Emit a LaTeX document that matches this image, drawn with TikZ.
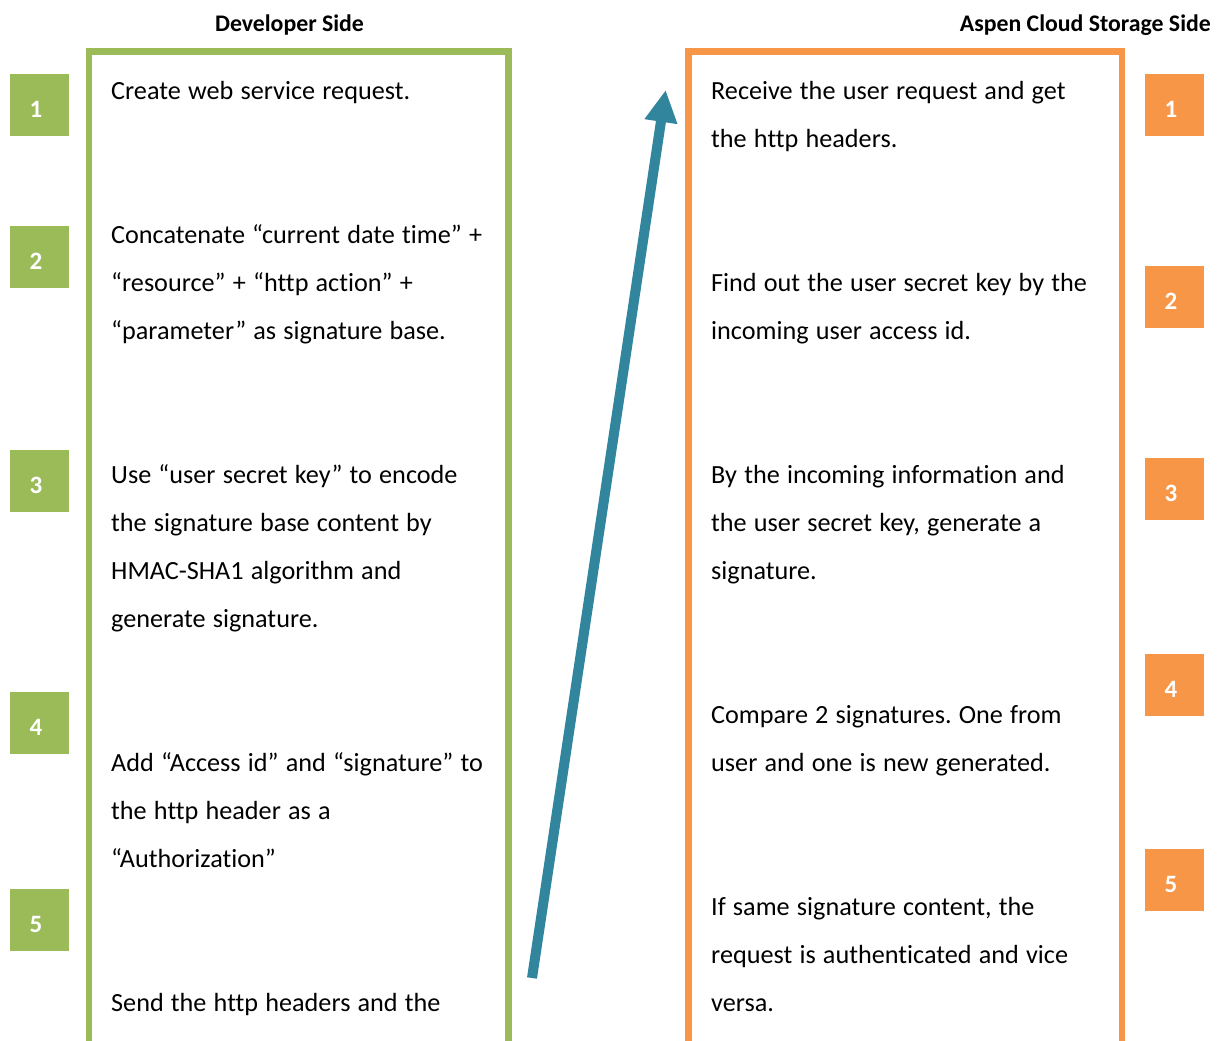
\documentclass[tikz,border=0pt]{standalone}
\usepackage{fontspec}
\setmainfont{Carlito}[Ligatures={NoCommon}]
\usetikzlibrary{arrows.meta}
\definecolor{devgreen}{HTML}{9BBB59}
\definecolor{aspenorange}{HTML}{F79646}
\definecolor{arrowteal}{HTML}{31859C}
\frenchspacing
\newcommand{\mybodyfont}{\fontsize{26.2}{48}\selectfont}
\newcommand{\mytightspace}{\spaceskip=7.2pt plus 2pt minus 1pt\relax}
\begin{document}
\begin{tikzpicture}[x=1pt,y=-1pt,
  frame/.style={line width=6.4pt},
  numbox/.style={minimum width=59pt, minimum height=62pt, inner sep=0pt, anchor=north west, draw=none},
  numtxt/.style={text=white, font=\fontsize{25}{28}\selectfont\bfseries, inner sep=0pt},
  body/.style={anchor=base west, inner sep=0pt, text width=395pt, align=left, font=\mybodyfont, execute at begin node=\mytightspace},
  head/.style={font=\fontsize{23.8}{28}\selectfont\bfseries, inner sep=0pt}]
\useasboundingbox (0,0) rectangle (1219,1041);
\fill[white] (0,0) rectangle (1219,1041);
% headers
\node[head] (hdev) at (289.5,25) {Developer Side};
\node[head, anchor=east] (hasp) at (1211,25) {Aspen Cloud Storage Side};
% frames
\draw[frame, devgreen] (89.2,1041) -- (89.2,51.7) -- (508.3,51.7) -- (508.3,1041);
\draw[frame, aspenorange] (688.5,1041) -- (688.5,51.7) -- (1121.8,51.7) -- (1121.8,1041);
% number boxes
\foreach \y [count=\i] in {74,226,450,692,889} {
  \node[numbox, fill=devgreen] (g\i) at (10,\y) {};
  \node[numtxt] (gn\i) at (36,\y+35) {\i};
}
\foreach \y [count=\i] in {74,266,458,654,849} {
  \node[numbox, fill=aspenorange] (o\i) at (1145,\y) {};
  \node[numtxt] (on\i) at (1171,\y+35) {\i};
}
% developer side texts
\node[body] (dt1) at (111,99.5) {Create web service request.};
\node[body] (dt2) at (111,243.5) {Concatenate “current date time” +\\“resource” + “http action” +\\“parameter” as signature base.};
\node[body] (dt3) at (111,483.5) {Use “user secret key” to encode\\the signature base content by\\HMAC-SHA1 algorithm and\\generate signature.};
\node[body] (dt4) at (111,771.5) {Add “Access id” and “signature” to\\the http header as a\\“Authorization”};
\node[body] (dt5) at (111,1011.5) {Send the http headers and the};
% aspen side texts
\node[body] (at1) at (711,99.5) {Receive the user request and get\\the http headers.};
\node[body] (at2) at (711,291.5) {Find out the user secret key by the\\incoming user access id.};
\node[body] (at3) at (711,483.5) {By the incoming information and\\the user secret key, generate a\\signature.};
\node[body] (at4) at (711,723.5) {Compare 2 signatures. One from\\user and one is new generated.};
\node[body] (at5) at (711,915.5) {If same signature content, the\\request is authenticated and vice\\versa.};
% arrow
\coordinate (as) at (532,978);
\coordinate (ae) at (665.7,90);
\draw[line width=10pt, arrowteal, -{Triangle[length=32pt,width=31pt]}] (as) -- (ae);
\end{tikzpicture}
\end{document}
